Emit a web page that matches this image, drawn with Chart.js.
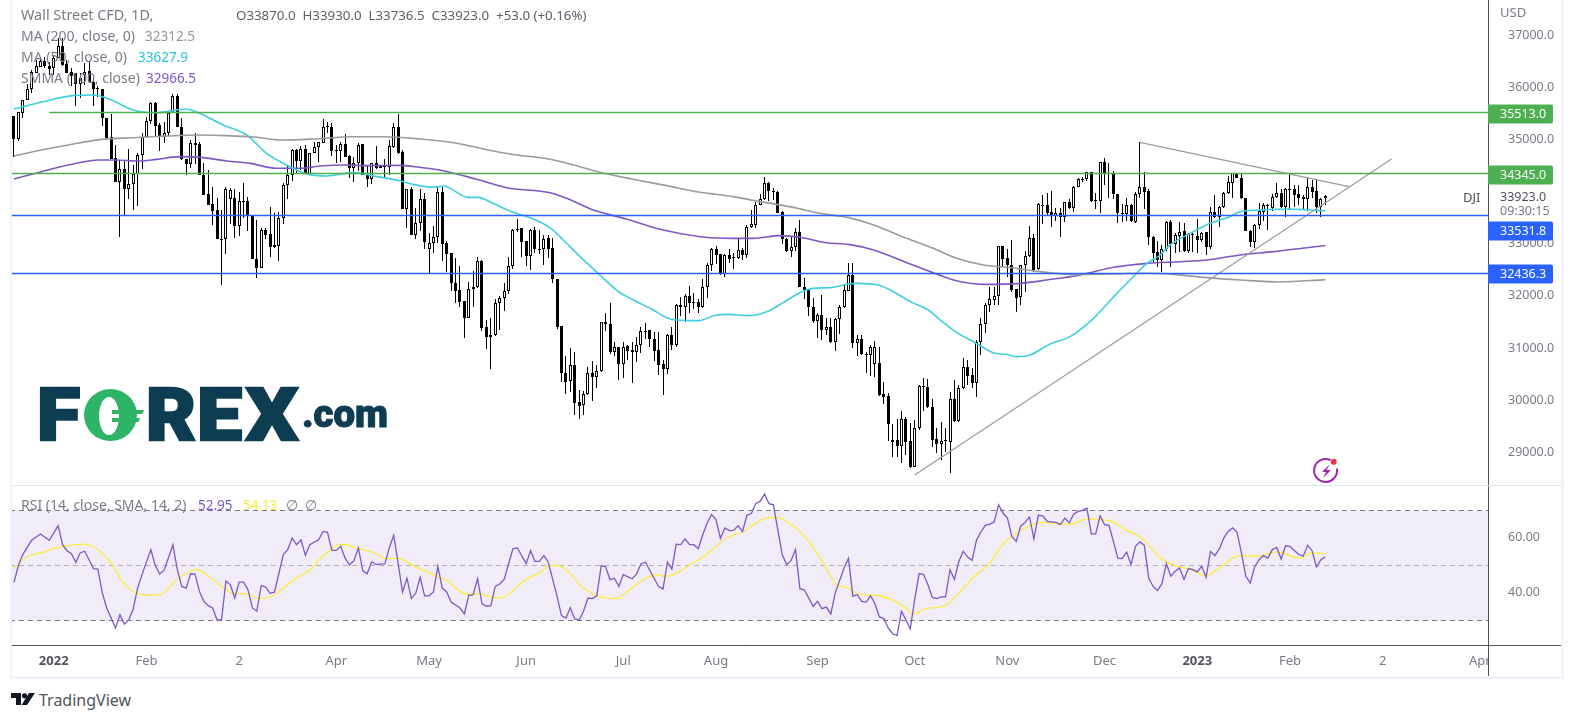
<!DOCTYPE html>
<html><head><meta charset="utf-8"><title>Wall Street CFD</title>
<script src="https://cdn.jsdelivr.net/npm/chart.js@4"></script>
<style>
html,body{margin:0;padding:0;background:#fff;width:1574px;height:721px;overflow:hidden}
canvas{position:absolute;left:0}
.t{position:absolute;white-space:nowrap;font:14px "Noto Sans",sans-serif;line-height:16px;color:#787b86}
.v{font-size:13.5px}
.f{position:absolute;background:#f0f3fa}
svg{position:absolute;overflow:visible}
</style></head><body>
<canvas id="main" width="1574" height="485" style="top:0"></canvas>
<canvas id="rsi" width="1574" height="190" style="top:486px"></canvas>
<div class="f" style="left:10px;top:0;width:2px;height:678px"></div>
<div class="f" style="left:1561px;top:0;width:3px;height:678px"></div>
<div class="f" style="left:10px;top:676px;width:1554px;height:3px"></div>
<div class="f" style="left:12px;top:485px;width:1549px;height:1px;background:#e0e3eb"></div>
<div class="f" style="left:1488px;top:645px;width:73px;height:1px;background:#50535e"></div>
<div class="f" style="left:1489px;top:646px;width:72px;height:30px;background:#fff"></div>
<div class="f" style="left:1488px;top:646px;width:1px;height:30px;background:#50535e"></div>

<span class="t" style="left:21px;top:7px;font-size:14.4px">Wall Street CFD, 1D,</span>
<span class="t" style="left:236px;top:7px;color:#5d606b;font-size:13.3px">O33870.0&nbsp; H33930.0&nbsp; L33736.5&nbsp; C33923.0&nbsp; +53.0 (+0.16%)</span>
<span class="t" style="left:21px;top:28px">MA (200, close, 0)</span><span class="t v" style="left:145px;top:28px;color:#9598a1">32312.5</span>
<span class="t" style="left:21px;top:49px">MA (50, close, 0)</span><span class="t v" style="left:138px;top:49px;color:#26c6da">33627.9</span>
<span class="t" style="left:21px;top:70px">SMMA (100, close)</span><span class="t v" style="left:146px;top:70px;color:#7e57c2">32966.5</span>
<span class="t" style="left:21px;top:497px">RSI (14, close, SMA, 14, 2)</span>
<span class="t v" style="left:198px;top:497px;color:#7e57c2">52.95</span><span class="t v" style="left:243px;top:497px;color:#ffeb3b">54.13</span>
<span class="t" style="left:286px;top:497px">∅</span><span class="t" style="left:305px;top:497px">∅</span>
<span class="t" style="left:1500px;top:4px;font-size:13px">USD</span>
<span class="t" style="left:1463px;top:189px;color:#50535e;font-size:13px">DJI</span>
<span class="t" style="left:1500px;top:189px;color:#50535e;font-size:12.5px">33923.0</span>
<span class="t" style="left:1500px;top:203px;font-size:12.5px">09:30:15</span>
<span class="t" style="left:39px;top:690px;font-size:16px;line-height:20px;color:#50535e">TradingView</span>

<svg style="left:11px;top:693px" width="24" height="13" viewBox="0 0 24 13"><path d="M0 0h10v12H5V5H0z M18 0h6L16 12H10.5z" fill="#131722"/><circle cx="13.5" cy="2.8" r="2.6" fill="#131722"/></svg>

<svg style="left:0;top:0" width="420" height="460">
<g font-family="Roboto,Inter,sans-serif" font-weight="900" font-size="72" fill="#0e3d52" stroke="#0e3d52" stroke-width="2.500">
<text x="37" y="440" textLength="43" lengthAdjust="spacingAndGlyphs">F</text>
<text x="146" y="440" textLength="50" lengthAdjust="spacingAndGlyphs">R</text>
<text x="197" y="440" textLength="45" lengthAdjust="spacingAndGlyphs">E</text>
<text x="246" y="440" textLength="52" lengthAdjust="spacingAndGlyphs">X</text>
<text x="302" y="427" font-size="38" stroke-width="1" textLength="86" lengthAdjust="spacingAndGlyphs">.com</text>
</g>
<ellipse cx="110.500" cy="415" rx="26.500" ry="26" fill="#2db467"/><ellipse cx="109" cy="416" rx="10" ry="19" fill="#fff"/>
<path d="M112 410h32l-1.500 4h-30.500z M112 418h28l-1.500 4h-26.500z" fill="#2db467"/>
</svg>

<svg style="left:1313px;top:458px" width="25" height="25" viewBox="0 0 25 25">
<path d="M17.500 2.100A11.500 11.500 0 1 0 23.900 10.500" fill="none" stroke="#9c27b0" stroke-width="2"/>
<path d="M17 6l-8 8h4l-3 6 8-8h-4.500z" fill="#9c27b0"/><circle cx="20.700" cy="3.700" r="3" fill="#f23645"/></svg>

<script>
const opens=[35447,35013,35511,35748,35958,36278,36393,36501,36405,36361,
36552,36789,36444,36290,36265,36054,36227,36310,36105,35958,
35958,35403,35039,34636,34189,34425,34055,34138,34330,34694,
35039,35345,35690,35268,35039,35115,35511,35831,35230,34617,
34528,34892,34911,34317,33953,33761,33646,33097,33097,33863,
33870,33346,33819,33819,33550,32701,32541,33263,33186,32969,
32963,33486,34119,34323,34796,34585,34815,34336,34732,34847,
34937,35256,35230,34796,34783,34911,34681,34445,34553,34904,
34317,34234,34540,34489,34489,34477,34860,35230,34757,33659,
34042,33174,33391,33851,32893,33020,33123,33985,33008,32816,
32241,32107,31903,31583,32126,32165,32663,31398,31245,31245,
31871,31954,32088,32567,33257,33295,33046,32771,33263,32905,
32893,33103,32912,32318,31424,30517,30363,30670,29961,29904,
30114,30517,30453,30555,31494,31462,30932,31015,30702,31034,
30964,30919,31053,31334,31341,31168,30957,30689,30606,31251,
31066,31826,31794,31999,31884,31884,31781,32165,32586,32893,
32797,32414,32778,32752,32733,32880,32778,33314,33365,33736,
33851,34157,34010,33991,33608,33084,32867,32944,33218,32171,
32126,31781,31526,31635,31353,31398,31124,31552,31781,32100,
32394,31104,31168,30893,30868,30695,30708,30114,30082,29239,
29239,29131,29635,29220,28728,29463,30274,30261,29878,29258,
29169,29239,29207,30018,29603,30229,30632,30478,30338,31111,
31455,31820,31928,31992,32950,32720,32599,32126,31973,32592,
32765,33103,32509,33742,33742,33601,33531,33582,33518,33793,
33678,34093,34240,34234,34368,33845,33825,34559,34355,34349,
33946,33595,33563,33742,33423,33946,34080,34010,33135,32842,
32688,32892,33423,32995,33154,33244,32867,33180,33148,33071,
33218,32931,33601,33506,33697,33966,34170,34349,34253,33870,
33250,33040,33359,33614,33736,33678,33902,33966,33697,34055,
34042,33946,33889,33850,34093,34004,33697,33870];
const highs=[35447,35518,35754,36060,36329,36520,36584,36584,36488,36616,
36935,36935,36520,36361,36278,36265,36457,36488,36233,36022,
35958,35403,35486,34892,34604,34604,34809,34508,34745,35128,
35422,35722,35722,35320,35339,35530,35869,35869,35403,34617,
34987,35128,34956,34553,34413,34080,33870,33646,34080,34068,
34042,33997,34157,33902,33550,33455,33300,33295,33697,33582,
33614,34157,34502,34809,34809,34873,34892,34745,34956,34956,
35396,35339,35320,34892,34956,35096,34700,34668,34924,34911,
34489,34553,34872,34500,34617,34988,35320,35486,34796,34042,
34093,33678,34042,33978,33212,33340,34106,34093,33059,32816,
32720,32573,31903,32273,32484,32739,32688,31539,31571,31935,
31999,32241,32752,33276,33468,33295,33059,33276,33314,33263,
33167,33167,33103,32318,31424,30849,30996,30932,30197,30185,
30632,30760,30676,31494,31679,31858,31124,31028,31124,31060,
31124,31219,31398,31475,31341,31315,31315,30772,31270,31411,
31845,31986,32037,32190,32062,31935,32318,32624,32912,32956,
32803,32803,32893,32829,33103,32912,33359,33646,33806,33953,
34272,34189,34062,34017,33621,33103,33148,33295,33455,32337,
32133,31954,31666,32018,31571,31571,31571,31826,32209,32637,
32637,31251,31251,30932,31060,31136,31028,30357,30133,29546,
29635,29795,29674,29558,29622,30293,30421,30402,30018,29463,
29590,29463,30165,30389,30293,30804,30772,30612,31155,31570,
31858,32177,32164,32956,32956,32892,33071,32126,32592,32867,
33340,33186,33774,33934,33966,34010,33678,33678,33806,33851,
34106,34253,34285,34381,34381,33966,34572,34636,34540,34400,
33953,33761,33870,33761,33997,34943,34381,34042,33148,33052,
32975,33442,33455,33199,33410,33391,33199,33199,33467,33231,
33231,33697,33934,33723,33985,34298,34349,34362,34349,33870,
33263,33372,33774,33787,33761,33953,34157,34042,34061,34336,
34125,34125,33934,34253,34221,34234,33870,33930];
const lows=[34668,34975,35415,35748,35882,36278,36393,36361,36233,36233,
36552,36405,36278,36022,35639,35786,36041,36073,35639,35818,
35256,34987,34617,34189,33135,33531,33857,33646,33723,34425,
35039,35294,35064,34783,34924,35064,35511,35243,34604,34317,
34445,34528,34310,33940,33742,33359,33084,32209,32803,33378,
33103,33148,33487,33250,32701,32337,32541,33100,32739,32912,
32675,33378,33863,34208,34336,34413,34330,34317,34732,34572,
34937,35115,34681,34540,34572,34668,34253,34189,34400,34317,
34093,34144,34425,34445,34253,34317,34828,34719,33659,33295,
33174,33084,33250,32905,32446,32816,33008,32675,32465,32101,
31871,31794,31200,31583,31794,32152,31334,30983,30606,31232,
31347,31711,32030,32522,33218,32752,32573,32497,32816,32803,
32592,32720,32254,31373,30357,30121,30165,29712,29635,29718,
30102,29993,30242,30549,31334,30887,30849,30389,30434,30772,
30338,30740,30900,31168,31028,30760,30485,30102,30504,30964,
31028,31615,31507,31666,31743,31679,31762,31967,32484,32612,
32395,32356,32637,32510,32714,32688,32720,33295,33308,33736,
33838,33819,33838,33595,32995,32848,32752,32854,32165,31935,
31615,31488,31200,31156,31251,31104,30951,31270,31762,32100,
31008,30849,30868,30529,30465,30453,30089,29929,29226,28920,
28907,28792,28952,28696,28715,29431,29801,29846,29111,28996,
28856,29016,28600,29590,29590,30216,30293,30229,30057,30868,
31296,31698,31826,31832,32560,32369,32081,31698,31826,32081,
32752,32465,32497,33378,33531,33314,33442,33135,33423,33659,
33614,34080,34189,34208,33806,33659,33582,34125,33870,33851,
33403,33423,33442,33423,33403,33870,33665,32975,32624,32560,
32465,32867,32560,32816,32848,32848,32816,32848,32829,33040,
32784,32893,33486,33327,33678,33953,33870,34266,33857,33244,
32944,32912,33276,33442,33263,33633,33870,33678,33506,33646,
33697,33742,33646,33633,33870,33595,33518,33736.5];
const closes=[35013,35518,35754,35958,36284,36405,36501,36405,36354,36552,
36789,36425,36278,36214,36054,36169,36297,36105,35958,35990,
35403,35019,34617,34189,34425,34055,34144,34330,34700,35039,
35345,35690,35256,35039,35115,35511,35831,35243,34617,34528,
34936,34936,34310,33940,33742,33633,33084,33071,34055,34029,
33340,33819,33800,33531,32701,32541,33263,33174,32944,32944,
33486,34125,34317,34796,34585,34815,34336,34732,34847,34949,
35243,35230,34783,34770,34911,34668,34445,34553,34898,34317,
34234,34540,34457,34457,34470,34872,35230,34745,33659,34042,
33174,33391,33851,33040,33020,33123,33985,33001,32810,32241,
32101,31884,31583,32126,32165,32663,31392,31219,31219,31871,
31954,32088,32567,33257,33289,33040,32771,33257,32893,32880,
33097,32905,32318,31411,30517,30357,30670,29955,29897,30114,
30517,30453,30555,31494,31456,30932,31015,30702,31028,30951,
30919,31053,31322,31315,31168,30951,30676,30600,31251,31066,
31826,31794,31999,31858,31858,31781,32165,32586,32893,32790,
32420,32778,32714,32733,32873,32778,33314,33372,33736,33851,
34157,34004,33995,33595,33084,32861,32944,33218,32165,32120,
31781,31526,31635,31353,31398,31124,31552,31781,32107,32394,
31104,31168,30887,30874,31028,31028,30101,30070,29546,29207,
29131,29635,29207,28715,29463,30274,30248,29865,29239,29169,
29226,29220,30018,29603,30229,30632,30472,30338,31111,31455,
31826,31934,31992,32950,32714,32592,32113,31966,32586,32771,
33103,32497,33761,33730,33595,33531,33582,33518,33793,33678,
34093,34234,34228,34368,33825,33832,34559,34336,34336,33946,
33582,33576,33742,33435,33946,34080,33997,33135,32829,32688,
32892,33416,32995,33161,33231,32867,33180,33167,33071,33212,
32931,33601,33506,33697,33966,34176,34349,34266,33870,33250,
33033,33359,33627,33736,33723,33902,33966,33697,34042,34036,
33934,33882,33850,34093,33997,33697,33850,33923];

const ma50Bars=[0,6.6,13.4,18,21.7,27,32.3,39,42,47.4,52.7,57.2,62.5,66.3,70.8,76.9,82.2,87.4,90.4,95,97.2,102.9,105.1,108.5,112.3,117.2,121.4,124.4,128.2,132.7,136.9,140.3,144.8,147.8,150.1,155,158.8,161.8,166.3,170.5,174.2,178,181,184.8,189,190.9,195.8,199.2,203,207.1,209.8,213.5,218,222.2,224.8,227.1,230.1,234.7,239.2,244.5,249.8,252.8,256.6,259.6,261.8,266.4,270.9,275.1,277.7,282.2,289,293.6,297];
const ma50Vals=[35581,35722,35837,35850,35767,35562,35511,35581,35498,35275,35083,34732,34477,34336,34298,34362,34285,34208,34138,34081,34106,33889,33889,33774,33627,33487,33308,33072,32752,32401,32081,31922,31730,31583,31539,31526,31628,31647,31622,31698,31871,32062,32145,32158,32228,32241,32209,32081,31890,31730,31538,31302,31091,30900,30881,30836,30868,31078,31219,31570,32049,32305,32624,32784,32975,33199,33391,33506,33614,33646,33665,33646,33627.9];
const ma200Bars=[0,6.2,12.3,19.9,27,34.6,41.4,48.2,55,60.2,67.8,76.9,83.7,92,100,107.4,112.3,121.4,126.7,132.7,140.3,147.8,155.4,162.9,169,176.5,182.5,189,194.7,202.2,208.2,213.5,219.6,224.8,232.4,240,247.5,256.6,262.6,270.1,277.7,286.8,297];
const ma200Vals=[34681,34796,34892,35000,35032,35064,35083,35071,35039,34987,35007,35051,35051,35007,34930,34796,34719,34617,34509,34368,34234,34113,33985,33902,33806,33697,33583,33500,33359,33103,32912,32720,32592,32548,32465,32413,32420,32433,32413,32350,32305,32267,32312.5];
const smmaBars=[0,6.2,12.3,19.2,22.9,28.2,32.3,37.6,42.3,48.2,53.5,59.5,64.8,69.3,75.3,80,87.4,91.9,97.2,104.8,111.6,121.4,125.2,131.2,138.7,146.3,155.4,162.9,167.4,173.5,178,184,189,194.7,203,208.2,212.8,219.6,227.9,233.9,241.5,249,256.6,264.1,270.2,277.7,285.3,292.8,297];
const smmaVals=[34240,34381,34508,34604,34604,34585,34617,34668,34655,34585,34540,34445,34445,34489,34508,34496,34502,34464,34400,34234,34074,33978,33870,33646,33474,33276,33135,33103,33103,33155,33123,33020,32988,32880,32611,32445,32305,32222,32241,32305,32401,32548,32624,32656,32688,32784,32848,32924,32966.5];

const levelValues=[35513,34345,33531.8,32436.3];
const levelLabels=["35513.0","34345.0","33531.8","32436.3"];
const levelStartBars=[8,-1,-1,-1];
const upTrendBars=[204,312], upTrendVals=[28569,34624];
const downTrendBars=[255,302.4], downTrendVals=[34943,34093];
const priceTicks=[37000,36000,35000,33000,32000,31000,30000,29000];

const rsiBars=[0,1,2,4,6,8,10,11,12,13,14,15,16,17,18,19,20,21,23,24,25,26,27,28,29,31,32,33,34,36,37,38,39,40,41,42,43,44,45,46,47,48,49,50,51,52,53,54,55,56,57,58,59,61,62,63,64,65,66,67,69,70,71,72,73,74,75,76,77,78,79,80,81,82,84,85,86,87,88,89,90,91,92,93,94,95,96,97,98,99,101,102,103,104,105,106,107,108,109,110,
111,113,114,116,117,118,119,120,121,123,124,125,126,127,128,129,130,131,132,133,134,135,136,137,138,140,141,142,143,146,147,148,149,150,151,152,153,154,155,156,157,158,159,160,161,162,163,164,165,166,167,168,169,170,171,172,173,174,175,176,177,178,179,181,182,183,184,185,186,188,189,190,191,192,193,194,195,196,197,198,199,200,201,202,203,204,205,206,207,208,209,210,211,212,213,214,215,216,217,218,219,220,221,222,223,
224,225,226,227,228,229,230,231,232,233,234,236,237,238,239,240,241,242,243,244,245,246,247,248,249,250,251,252,253,254,255,256,257,258,259,260,261,262,263,264,265,266,267,268,269,270,271,272,273,274,275,276,277,278,279,280,281,282,283,284,285,286,287,288,289,290,291,292,293,294,295,296,297];
const rsiVals=[43.7,49.8,53.8,59,61.3,59,64.3,57.4,55.2,54.1,51,54.4,55,51.9,48.7,48.5,39.8,34.4,27.1,31.9,28.5,30.1,34,41.6,46.5,55.6,49.8,46.7,48.1,57.3,48.3,42.2,41.6,46.8,46.7,40.4,36.8,35.2,34.4,30,30,44.2,42.8,38,43.8,43.8,41,34.4,33.2,42.5,42,39.7,40.1,53.8,55.6,59.8,57.4,59.2,53.5,57.4,59.2,62.2,61.9,55.3,55.3,56.8,52.5,50,51.6,56.2,47.9,46.8,51.1,50.2,50.4,56.2,60.8,50.7,40.1,45.2,37.8,39.8,45.5,38.8,38.8,40.2,49.5,41.6,40.2,36.5,34.4,32.2,39,39.2,45,35.9,35,35.2,42.2,43.1,
44.7,55.9,56.2,50.5,55.2,51.3,51.3,53.4,51.1,38.6,31.6,30.7,34.5,30.4,30,33.2,38,37.8,38.8,49.8,49.3,44.7,45.2,42.2,46.5,45,46.7,50.4,51,42.2,41.3,51.1,48.5,57.6,57.4,59.5,57.4,57.4,55.9,61,65.3,68.3,66.5,59.7,63.5,62.5,62.6,64.3,62.2,68.1,68.7,72.3,73.2,75.8,72.3,71.9,62.8,53.8,50.1,51.6,55.6,41.4,41,35,36.8,34.1,34.7,32.2,39.8,48.9,52.5,38.6,39.2,36.8,36.5,38.8,35.9,31.1,30.5,27.1,25,24.3,33.2,30.1,26.8,37.4,46.8,46.6,42.8,38.2,37.8,38.4,38.4,48.3,44.7,51.3,55,52.9,51.7,59,62,64.4,64.9,65.6,71.9,
68.9,67.1,60.4,58.6,64.1,65.5,67.5,59.5,68.1,67.9,65.9,65.5,64.7,67.1,65.3,68.5,69.5,69.9,70.7,61.3,61.3,67.9,64.7,64.4,58.6,52.5,52.3,54.7,50.1,56.8,58.4,57.2,45.3,42.2,40.7,43.2,50.5,45.9,47.7,48.9,44.7,48.7,48.3,47.5,49.5,45.5,55,53.4,55.8,59.8,62.2,63.5,62,54.4,45.9,43.5,49.3,51.9,53.4,52.5,55.6,56.4,52.2,57,56.8,55.3,53.8,53.2,57.2,55.2,49.3,51.9,52.95];
const rsiMaBars=[0,2.9,6.6,10,15.7,18.7,21.7,24.8,27.4,30,33.4,36.8,41.4,44,47,50,53,55.3,58.7,62.5,65.2,67,69.3,74.2,77.6,82.1,84.4,86.7,90.4,95,98.4,101,103.3,105.2,107,110,112.4,115.4,119.2,121.4,123.3,126.3,128.2,130.5,132,136.2,139.2,142.6,145.2,147.5,149.4,153.1,156.9,161.4,165.2,169.7,172.4,176.5,180.3,183.3,186.4,189,190.9,195.4,198.8,202.2,203.3,204.5,206.4,210.9,214.3,217.7,220.7,223.4,225,227.4,230.8,233.2,237,239.4,242.8,248.1,251.9,255.6,259.7,263,266.3,270,273.8,277.5,281.2,286.2,291.2,294,297];
const rsiMaVals=[48.9,52.9,54.7,56.4,57.6,55.9,51.3,43.5,40.1,39,39.3,44.7,48.3,46.1,42.2,39.6,39.6,37.8,39,43.5,46.5,48.1,52.2,57.6,56.2,54.1,52.2,52.5,49.8,46.5,44.1,40.4,39.2,39.6,38.8,38,39.8,44.1,47.3,49.9,49.8,46.5,42.5,40.2,38.8,37.8,40.7,44.7,46.5,45.9,46.5,50.1,53.8,59.8,62.2,66.7,67.3,64.3,58,50.7,42.8,41.6,39.6,39,37.4,34.1,32.3,32.5,34.1,35.2,40.4,46.1,50.1,56.2,59.2,61.9,64.7,65.5,64.9,64.9,66.7,66.1,62.8,59.5,52.5,49.8,48.5,46.1,49.9,53.4,53.2,54.8,52.5,54.4,54.13];
const rsiLevels=[70,50,30];
const rsiTicks=[60,40];
const tickBars=[9,30,51,73,94,116,138,159,182,204,225,247,268,289,310,332];
const tickLabels=["2022","Feb","2","Apr","May","Jun","Jul","Aug","Sep","Oct","Nov","Dec","2023","Feb","2","Apr"];

const FONT='"Noto Sans",sans-serif';
const pts=(b,v)=>b.map((x,i)=>({x,y:v[i]}));
const XMIN=-0.45,XMAX=333.85;
const lineDs=(data,color,w,order,extra)=>Object.assign({type:'line',data,borderColor:color,borderWidth:w,pointRadius:0,order,fill:false,tension:0},extra||{});
const levelColors=['#4caf50','#4caf50','#2962ff','#2962ff'];
const tagOffsets=[0,0,14,0];
const isYear=c=>c.tick&&/^\d{4}$/.test(tickLabels[tickBars.indexOf(c.tick.value)]);

// Pins each pane to its exact area in the page, whatever room the labels asked for.
const pinArea=(paneBottom,canvasBottom)=>({id:'pinArea',afterLayout(chart){
  const a=chart.chartArea,{x,y}=chart.scales;
  a.left=12;a.right=1488;a.width=1476;a.top=0;a.bottom=paneBottom;a.height=paneBottom;
  x.left=12;x.right=1488;x.width=1476;x.top=paneBottom;x.bottom=canvasBottom;x.height=canvasBottom-paneBottom;
  y.left=1488;y.right=1574;y.width=86;y.top=0;y.bottom=paneBottom;y.height=paneBottom;
  x.configure();y.configure();
}});
const snapMarks={id:'snapMarks',afterDatasetsUpdate(chart){
  chart.data.datasets.forEach((d,di)=>{
    const els=chart.getDatasetMeta(di).data;
    if(d.type==='line'){
      if(d.snapY)els.forEach(el=>{el.y=Math.round(el.y-0.5)+0.5});
      return;
    }
    els.forEach(el=>{
      el.x=Math.round(el.x-0.5)+0.5;
      el.y=Math.round(el.y);
      el.base=Math.round(el.base);
      if(el.base-el.y<1)el.base=el.y+1;
      el.height=el.base-el.y;
    });
  });
}};
const priceTags={id:'priceTags',afterDraw(chart){
  const c=chart.ctx,s=chart.scales.y;
  levelValues.forEach((v,i)=>{
    const y=Math.round(s.getPixelForValue(v))+tagOffsets[i]+1;
    c.fillStyle=levelColors[i];
    c.beginPath();c.roundRect(1488,y-9.5,65,19,[0,2,2,0]);c.fill();
    c.fillStyle='#fff';c.font='12.5px '+FONT;c.textAlign='left';c.textBaseline='middle';
    c.fillText(levelLabels[i],1500,y+0.5);
  });
}};

new Chart(document.getElementById('main'),{
 type:'bar',
 plugins:[pinArea(485,485),snapMarks,priceTags],
 data:{datasets:[
  ...levelValues.map((v,i)=>lineDs(pts([levelStartBars[i],400],[v,v]),levelColors[i],1.3,1,{snapY:true})),
  lineDs(pts(upTrendBars,upTrendVals),'#9a9aa2',1.2,2),
  lineDs(pts(downTrendBars,downTrendVals),'#9a9aa2',1.2,2),
  lineDs(pts(ma200Bars,ma200Vals),'#9a9aa2',1.6,3,{cubicInterpolationMode:'monotone'}),
  lineDs(pts(ma50Bars,ma50Vals),'#3fcfe0',1.6,3,{cubicInterpolationMode:'monotone'}),
  lineDs(pts(smmaBars,smmaVals),'#7e57c2',1.6,3,{cubicInterpolationMode:'monotone'}),
  {label:'bodies',data:opens.map((o,i)=>({x:i,y:[o,closes[i]]})),barThickness:3,grouped:false,order:5,
   borderWidth:1,borderColor:'#000',borderSkipped:false,inflateAmount:0,
   backgroundColor:c=>closes[c.dataIndex]>=opens[c.dataIndex]?'#fff':'#000'},
  {label:'wicks',data:highs.map((h,i)=>({x:i,y:[lows[i],h]})),barThickness:1,grouped:false,order:6,
   borderWidth:0,inflateAmount:0,backgroundColor:'#000'}
 ]},
 options:{responsive:false,animation:false,devicePixelRatio:1,
  layout:{padding:{left:12,right:0,top:0,bottom:0}},
  plugins:{legend:{display:false},tooltip:{enabled:false}},
  scales:{
   x:{type:'linear',min:XMIN,max:XMAX,offset:false,display:false,grid:{display:false}},
   y:{type:'linear',position:'right',min:28377,max:37670,
      afterFit:s=>{s.width=86},
      afterBuildTicks:s=>{s.ticks=priceTicks.map(value=>({value}))},
      grid:{display:false},border:{display:true,color:'#50535e',width:1},
      ticks:{padding:12,color:'#787b86',font:{family:FONT,size:12.5},callback:v=>v.toFixed(1),autoSkip:false}}
  }}
});

new Chart(document.getElementById('rsi'),{
 type:'line',
 plugins:[pinArea(159,190),snapMarks],
 data:{datasets:[
  lineDs(pts([-5,400],[rsiLevels[0],rsiLevels[0]]),'#787b86',1,4,{snapY:true,borderDash:[5,4],fill:'+1',backgroundColor:'rgba(126,87,194,0.11)'}),
  lineDs(pts([-5,400],[rsiLevels[2],rsiLevels[2]]),'#787b86',1,4,{snapY:true,borderDash:[5,4]}),
  lineDs(pts([-5,400],[rsiLevels[1],rsiLevels[1]]),'rgba(120,123,134,0.55)',1,4,{snapY:true,borderDash:[5,4]}),
  lineDs(pts(rsiMaBars,rsiMaVals),'#ffeb3b',1.3,3,{cubicInterpolationMode:'monotone'}),
  lineDs(pts(rsiBars,rsiVals),'#7e57c2',1.3,2)
 ]},
 options:{responsive:false,animation:false,devicePixelRatio:1,
  layout:{padding:{left:12,right:0,top:0,bottom:0}},
  plugins:{legend:{display:false},tooltip:{enabled:false}},
  scales:{
   x:{type:'linear',min:XMIN,max:XMAX,position:'bottom',
      afterFit:s=>{s.height=31},
      afterBuildTicks:s=>{s.ticks=tickBars.map(value=>({value}))},
      grid:{display:false},border:{display:true,color:'#50535e',width:1},
      ticks:{autoSkip:false,maxRotation:0,padding:0,callback:v=>tickLabels[tickBars.indexOf(v)],
        color:c=>isYear(c)?'#50535e':'#787b86',
        font:c=>({family:FONT,size:13,weight:isYear(c)?'bold':'normal'})}},
   y:{type:'linear',position:'right',min:20.91,max:78.73,
      afterFit:s=>{s.width=86},
      afterBuildTicks:s=>{s.ticks=rsiTicks.map(value=>({value}))},
      grid:{display:false},border:{display:true,color:'#50535e',width:1},
      ticks:{padding:12,color:'#787b86',font:{family:FONT,size:12.5},callback:v=>v.toFixed(2),autoSkip:false}}
  }}
});
</script>
</body></html>
